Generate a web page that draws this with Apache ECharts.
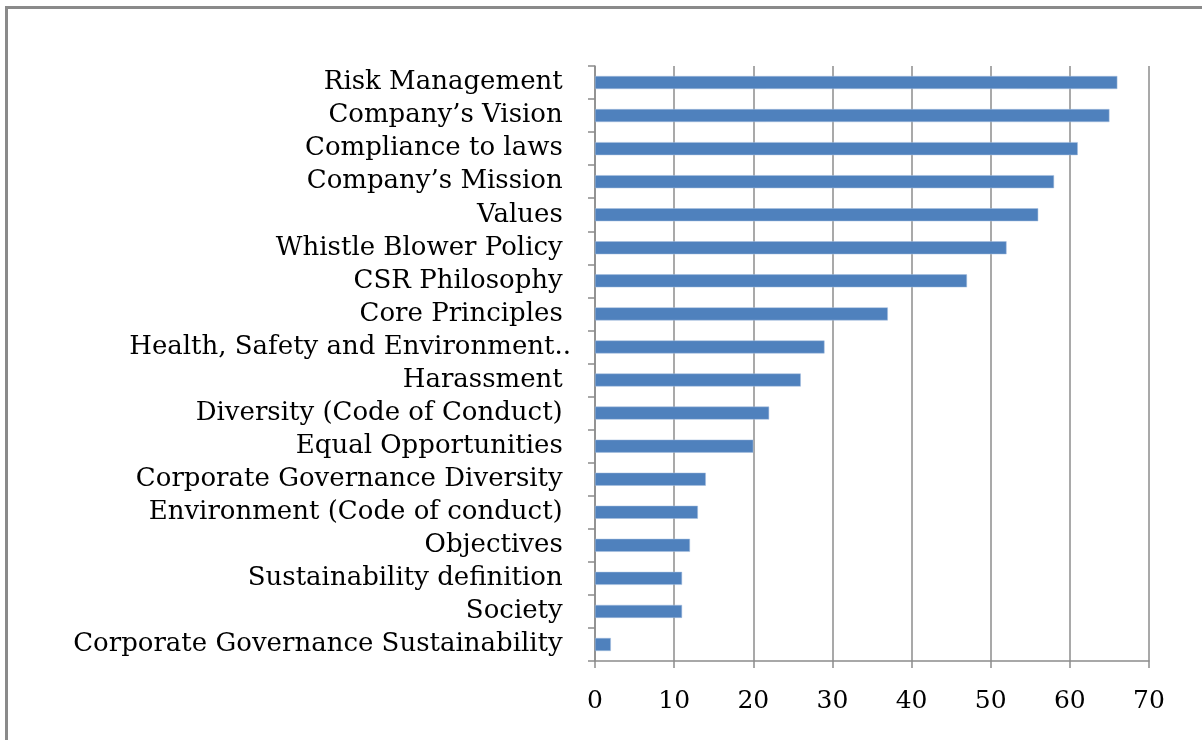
<!DOCTYPE html>
<html>
<head>
    <meta charset="utf-8">
    <title>Disclosure topics</title>
    <script src="https://cdn.jsdelivr.net/npm/echarts@6/dist/echarts.min.js"></script>
    <style>
        html, body { margin: 0; padding: 0; background: #fff; overflow: hidden; }
        #frame { position: absolute; left: 5px; top: 6px; width: 1400px; height: 900px; border: 3px solid #8a8a8a; }
        #chart { position: absolute; left: 0; top: 0; width: 1202px; height: 740px; }
    </style>
</head>
<body>
<div id="frame"></div>
<div id="chart"></div>
<script type="text/javascript">
    // categories, top to bottom
    var topics = [
        'Risk Management ',
        'Company\u2019s Vision ',
        'Compliance to laws ',
        'Company\u2019s Mission ',
        'Values ',
        'Whistle Blower Policy ',
        'CSR Philosophy ',
        'Core Principles ',
        'Health, Safety and Environment..',
        'Harassment ',
        'Diversity (Code of Conduct) ',
        'Equal Opportunities ',
        'Corporate Governance Diversity ',
        'Environment (Code of conduct) ',
        'Objectives ',
        'Sustainability definition ',
        'Society ',
        'Corporate Governance Sustainability '
    ];
    var counts = [66, 65, 61, 58, 56, 52, 47, 37, 29, 26, 22, 20, 14, 13, 12, 11, 11, 2];
    var xTicks = [0, 10, 20, 30, 40, 50, 60, 70];

    var labelFont = 'DejaVu Serif';
    var lineColor = '#8c8c8c';

    var myChart = echarts.init(document.getElementById('chart'));
    myChart.setOption({
        animation: false,
        grid: { left: 595, right: 53, top: 66, bottom: 79 },
        xAxis: {
            type: 'value',
            min: xTicks[0],
            max: xTicks[xTicks.length - 1],
            interval: 10,
            axisLine: { show: true, lineStyle: { color: lineColor, width: 1.5 } },
            axisTick: { show: true, length: 7, lineStyle: { color: lineColor, width: 1.5 } },
            splitLine: { show: true, lineStyle: { color: lineColor, width: 1.5 } },
            axisLabel: { margin: 28, fontFamily: labelFont, fontSize: 25, color: '#000' }
        },
        yAxis: {
            type: 'category',
            inverse: true,
            data: topics,
            axisLine: { show: true, lineStyle: { color: lineColor, width: 1.5 } },
            axisTick: { show: true, length: 7, lineStyle: { color: lineColor, width: 1.5 } },
            axisLabel: { interval: 0, hideOverlap: false, margin: 24, fontFamily: labelFont, fontSize: 26, color: '#000' }
        },
        series: [{
            type: 'bar',
            data: counts,
            barWidth: 13,
            itemStyle: { color: '#4f81bd', borderColor: '#a7bfde', borderWidth: 0.5 }
        }]
    });
</script>
</body>
</html>
